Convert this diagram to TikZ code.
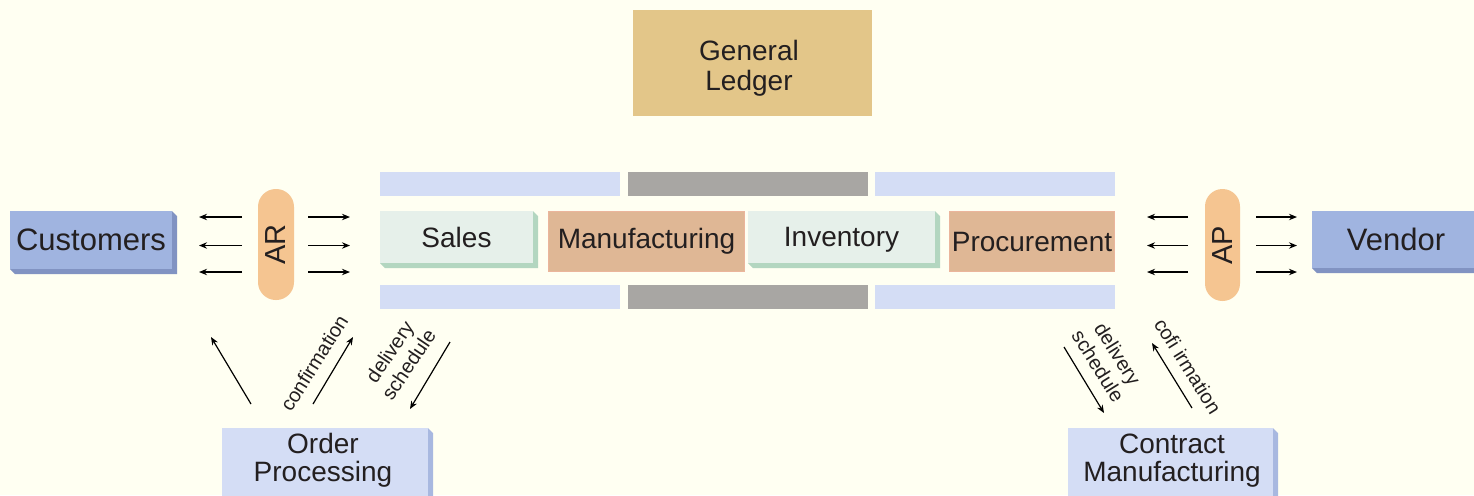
\documentclass[tikz,border=0pt]{standalone}
\usepackage{fontspec}
\setmainfont{Liberation Sans}
\usetikzlibrary{arrows.meta}
\definecolor{bg}{HTML}{FFFFF2}
\definecolor{txt}{HTML}{231F20}
\definecolor{glc}{HTML}{E3C689}
\definecolor{custc}{HTML}{A0B4E0}
\definecolor{custx}{HTML}{8193C2}
\definecolor{arc}{HTML}{F5C591}
\definecolor{barb}{HTML}{D4DDF5}
\definecolor{barg}{HTML}{A8A6A3}
\definecolor{salc}{HTML}{E6F0EA}
\definecolor{salx}{HTML}{B3D6C0}
\definecolor{manc}{HTML}{DFB795}
\definecolor{manb}{HTML}{EBB59C}
\definecolor{opc}{HTML}{D4DDF5}
\definecolor{opx}{HTML}{A8B8E0}
\newcommand\myextrude[2]{\fill[#2] (#1.north east) -- ([shift={(5,5)}]#1.north east) -- ([shift={(5,5)}]#1.south east) -- ([shift={(5,5)}]#1.south west) -- (#1.south west) -- (#1.south east) -- cycle;}
\begin{document}
\begin{tikzpicture}[x=0.5pt,y=-0.5pt,
  box/.style={inner sep=0pt, outer sep=0pt, text=txt},
  lab/.style={font=\fontsize{14}{14}\selectfont, text=txt},
  big/.style={font=\fontsize{15.5}{16}\selectfont},
  small/.style={font=\fontsize{10}{11.5}\selectfont, text=txt, align=center, inner sep=0pt},
  arr/.style={-{Stealth[length=4pt,width=3.2pt]}, line width=0.6pt, draw=black}]
\useasboundingbox (0,0) rectangle (1474,495);
\fill[bg] (0,0) rectangle (1474,495);
% General Ledger
\node[box, fill=glc, minimum width=119.5pt, minimum height=53pt] (gl) at (752.5,63) {};
\node[lab, align=center, font=\fontsize{14}{15}\selectfont, inner sep=0pt] (gltext) at (749,68) {General\\Ledger};
% bars
\foreach \nm/\cx/\cy/\col in {bt1/500/184/barb, bt2/748/184/barg, bt3/995/184/barb, bb1/500/297/barb, bb2/748/297/barg, bb3/995/297/barb}
  \node[box, fill=\col, minimum width=120pt, minimum height=12pt] (\nm) at (\cx,\cy) {};
% modules
\node[box, lab, fill=salc, minimum width=76.5pt, minimum height=26pt] (sales) at (456.5,237) {Sales};
\myextrude{sales}{salx}
\node[box, lab, fill=manc, draw=manb, line width=0.5pt, minimum width=98pt, minimum height=30pt] (manu) at (646.5,241.5) {Manufacturing};
\node[box, lab, fill=salc, minimum width=93.5pt, minimum height=26pt, text depth=0pt] (inv) at (841.5,237) {Inventory};
\myextrude{inv}{salx}
\node[box, lab, fill=manc, draw=manb, line width=0.5pt, minimum width=82.5pt, minimum height=30pt] (proc) at (1032,241.5) {Procurement};
% Customers / Vendor
\node[box, big, fill=custc, minimum width=81pt, minimum height=29pt] (cust) at (91,240) {Customers};
\myextrude{cust}{custx}
\node[box, big, fill=custc, minimum width=84pt, minimum height=28.5pt] (vend) at (1396,239.5) {Vendor};
\myextrude{vend}{custx}
% AR / AP
\node[box, fill=arc, rotate=90, minimum width=55.5pt, minimum height=18pt, rounded corners=8.9pt, font=\fontsize{14.5}{15}\selectfont] (ar) at (276,244.5) {AR};
\node[box, fill=arc, rotate=90, minimum width=56pt, minimum height=17.5pt, rounded corners=8.7pt, font=\fontsize{14.5}{15}\selectfont] (ap) at (1222.5,245) {AP};
% short arrows
\foreach \i/\yy in {1/217,2/245.5,3/272} {
  \coordinate (arLs\i) at (242,\yy); \coordinate (arLe\i) at (199,\yy);
  \coordinate (arRs\i) at (308,\yy); \coordinate (arRe\i) at (350,\yy);
  \coordinate (apLs\i) at (1188,\yy); \coordinate (apLe\i) at (1147,\yy);
  \coordinate (apRs\i) at (1256,\yy); \coordinate (apRe\i) at (1297,\yy);
  \draw[arr] (arLs\i) -- (arLe\i);
  \draw[arr] (arRs\i) -- (arRe\i);
  \draw[arr] (apLs\i) -- (apLe\i);
  \draw[arr] (apRs\i) -- (apRe\i);
}
% Order Processing / Contract Manufacturing
\node[box, fill=opc, minimum width=103pt, minimum height=36pt] (op) at (325,464) {};
\myextrude{op}{opx}
\node[lab, align=center, inner sep=0pt] (optext) at (323,460) {Order\\Processing};
\node[box, fill=opc, minimum width=102.5pt, minimum height=36pt] (cm) at (1170.5,464) {};
\myextrude{cm}{opx}
\node[lab, align=center, inner sep=0pt] (cmtext) at (1172,461) {Contract\\Manufacturing};
% diagonal arrows
\coordinate (a1s) at (251,404); \coordinate (a1e) at (211,337);
\coordinate (a2s) at (313,404); \coordinate (a2e) at (353,337);
\coordinate (a3s) at (450,342); \coordinate (a3e) at (410,409);
\coordinate (b1s) at (1064,347); \coordinate (b1e) at (1104,413);
\coordinate (b2s) at (1192,408); \coordinate (b2e) at (1152,343);
\draw[arr] (a1s) -- (a1e);
\draw[arr] (a2s) -- (a2e);
\draw[arr] (a3s) -- (a3e);
\draw[arr] (b1s) -- (b1e);
\draw[arr] (b2s) -- (b2e);
% labels
\node[small, rotate=58] (conf) at (314,363) {confirmation};
\node[small, rotate=56] (dsl) at (399,358) {delivery\\schedule};
\node[small, rotate=-58] (dsr) at (1108,360) {delivery\\schedule};
\node[small, rotate=-58] (confr) at (1188,366) {cofi irmation};
\end{tikzpicture}
\end{document}
